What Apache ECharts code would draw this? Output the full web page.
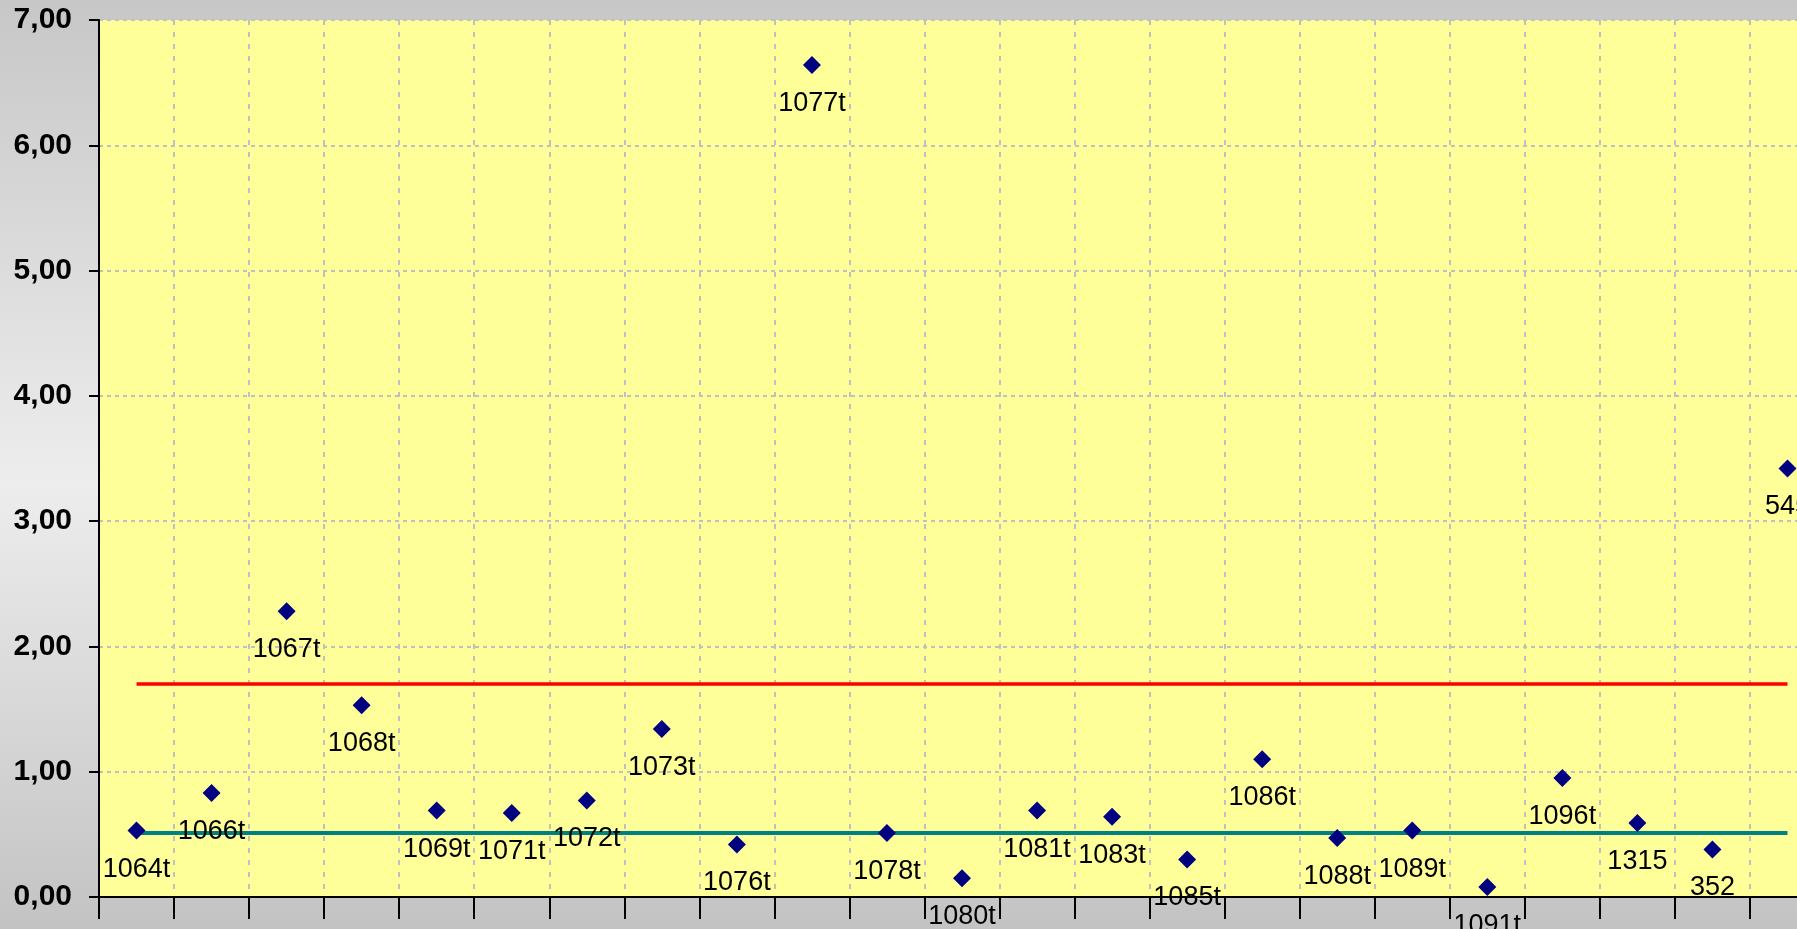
<!DOCTYPE html>
<html>
<head>
<meta charset="utf-8">
<script src="https://cdn.jsdelivr.net/npm/echarts@6/dist/echarts.min.js"></script>
<style>
html,body{margin:0;padding:0;}
#chart{width:1797px;height:929px;}
</style>
</head>
<body>
<div id="chart"></div>
<script>
// Sample identifiers (category axis)
var categories = ['1064t','1066t','1067t','1068t','1069t','1071t','1072t','1073t','1076t','1077t','1078t','1080t','1081t','1083t','1085t','1086t','1088t','1089t','1091t','1096t','1315','352','545'];
// Measured values
var values = [0.53,0.83,2.28,1.53,0.69,0.67,0.77,1.34,0.42,6.64,0.51,0.15,0.69,0.64,0.30,1.10,0.47,0.53,0.08,0.95,0.59,0.38,3.42];
// Reference levels
var upperLimit = 1.70;
var centerLevel = 0.51;
// Y axis range
var yMin = 0, yMax = 7, yStep = 1;

var chart = echarts.init(document.getElementById('chart'), null, {renderer:'canvas'});
var first = categories[0], last = categories[categories.length-1];
chart.setOption({
  animation:false,
  backgroundColor:{type:'linear',x:0,y:0,x2:0,y2:1,colorStops:[
    {offset:0,color:'#c7c7c7'},{offset:0.52,color:'#ededed'},{offset:1,color:'#c3c3c3'}]},
  grid:{left:99,top:20,bottom:32,width:1726,show:true,backgroundColor:'#ffff99',borderWidth:0,
    containLabel:false,outerBoundsMode:'none'},
  xAxis:{
    type:'category', data:categories, boundaryGap:true,
    axisLine:{show:true,lineStyle:{color:'#000',width:2}},
    axisTick:{show:true,inside:false,length:22,alignWithLabel:false,lineStyle:{color:'#000',width:2}},
    axisLabel:{show:false},
    splitLine:{show:true,lineStyle:{color:'#c0c0c0',width:2,type:[5,7]}}
  },
  yAxis:{
    type:'value', min:yMin, max:yMax, interval:yStep,
    axisLine:{show:true,lineStyle:{color:'#000',width:2}},
    axisTick:{show:true,length:10,lineStyle:{color:'#000',width:2}},
    axisLabel:{margin:27,color:'#000',fontFamily:'Liberation Sans, Arial',fontWeight:'bold',fontSize:30,
      formatter:function(v){return v.toFixed(2).replace('.',',');}},
    splitLine:{show:true,lineStyle:{color:'#c0c0c0',width:2,type:[4,4]}}
  },
  series:[
    {
      type:'line', data:[], silent:true,
      markLine:{silent:true,symbol:['none','none'],label:{show:false},
        data:[
          [{coord:[first,upperLimit],lineStyle:{color:'#ff0000',width:3.5,type:'solid'}},{coord:[last,upperLimit]}],
          [{coord:[first,centerLevel],lineStyle:{color:'#008080',width:4,type:'solid'}},{coord:[last,centerLevel]}]
        ]}
    },
    {
      type:'scatter', data:values, symbol:'diamond', symbolSize:[18,18], z:5,
      itemStyle:{color:'#000080',opacity:1},
      label:{show:true,position:'bottom',distance:16,formatter:'{b}',color:'#000',opacity:1,
        fontFamily:'Liberation Sans, Arial',fontSize:27}
    }
  ]
});
</script>
</body>
</html>
